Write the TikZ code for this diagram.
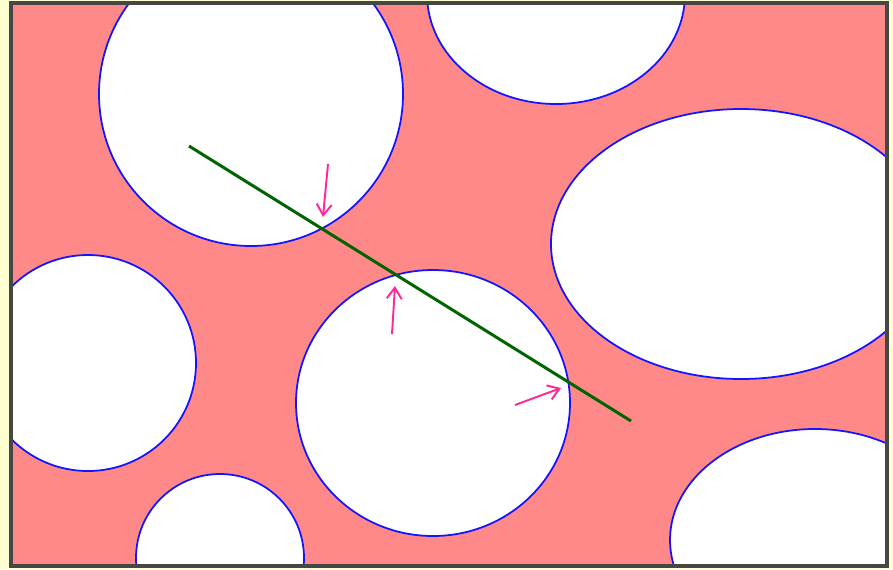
\documentclass[tikz,border=0pt]{standalone}
\usetikzlibrary{arrows.meta}
\definecolor{paper}{RGB}{255,255,208}
\definecolor{bulkred}{RGB}{255,136,136}
\definecolor{rim}{RGB}{20,20,255}
\definecolor{probegreen}{RGB}{0,100,0}
\definecolor{hitpink}{RGB}{255,40,150}
\definecolor{framegray}{RGB}{70,70,70}

\begin{document}
\begin{tikzpicture}[x=0.02cm,y=-0.02cm,
  grain/.style={fill=white,draw=rim,line width=1pt},
  probe/.style={draw=probegreen,line width=1.7pt},
  hit/.style={draw=hitpink,line width=1.1pt,-{Straight Barb[length=2.2mm,width=3mm]}}]
% page and margins
\fill[paper] (0,0) rectangle (893,569);
\useasboundingbox (0,0) rectangle (893,569);
\coordinate (nw) at (11,3);
\coordinate (se) at (887,566);
% bulk with grains
\begin{scope}
\clip (nw) rectangle (se);
\fill[bulkred] (nw) rectangle (se);
\draw[grain] (251,94) circle [radius=152];
\draw[grain] (556,-6) ellipse [x radius=129,y radius=110];
\draw[grain] (741,244) ellipse [x radius=190,y radius=135];
\draw[grain] (88,363) circle [radius=108];
\draw[grain] (433,403) ellipse [x radius=137,y radius=133];
\draw[grain] (220,558) circle [radius=84];
\draw[grain] (815,540) ellipse [x radius=145,y radius=111];
\end{scope}
\draw[framegray,line width=2pt] (nw) rectangle (se);
% probe line and its hits
\coordinate (p0) at (189,146);
\coordinate (p1) at (631,421);
\draw[probe] (p0) -- (p1);
\coordinate (a1) at (328,164);
\coordinate (t1) at (323,217);
\coordinate (a2) at (392,334);
\coordinate (t2) at (395,286);
\coordinate (a3) at (515,405);
\coordinate (t3) at (561,388);
\draw[hit] (a1) -- (t1);
\draw[hit] (a2) -- (t2);
\draw[hit] (a3) -- (t3);
\end{tikzpicture}
\end{document}
